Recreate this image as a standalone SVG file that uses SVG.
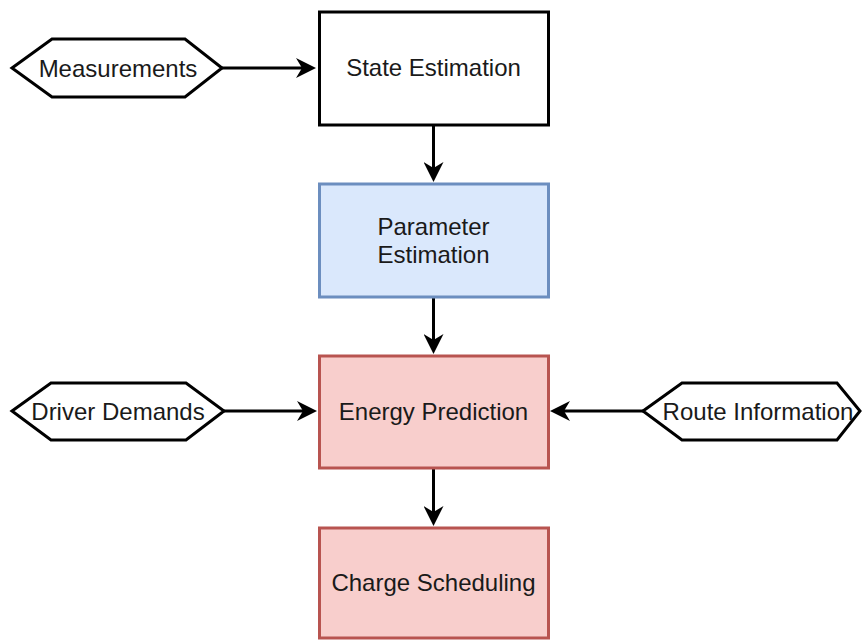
<svg xmlns="http://www.w3.org/2000/svg" width="866" height="641" viewBox="0 0 866 641">
<style>
.box{stroke-width:3}
.plain{fill:#ffffff;stroke:#000000}
.blue{fill:#dae8fc;stroke:#6c8ebf}
.red{fill:#f8cecc;stroke:#b85450}
.hex{fill:#ffffff;stroke:#000000;stroke-width:3;stroke-linejoin:miter}
.lbl{font-family:"Liberation Sans",Arial,Helvetica,sans-serif;font-size:24px;fill:#1a1a1a;text-anchor:middle;dominant-baseline:central}
.edge{fill:none;stroke:#000000;stroke-width:3}
</style>
<defs>
<marker id="arr" viewBox="0 -10 20 20" refX="6" refY="0" markerWidth="20" markerHeight="20" markerUnits="userSpaceOnUse" orient="auto">
<path d="M0,-10 L20,0 L0,10 L6,0 Z" fill="#000000"/>
</marker>
</defs>
<g id="connectors">
<path class="edge" d="M222,68 L302,68" marker-end="url(#arr)"/>
<path class="edge" d="M433.5,126 L433.5,168" marker-end="url(#arr)"/>
<path class="edge" d="M433.5,298 L433.5,340" marker-end="url(#arr)"/>
<path class="edge" d="M433.5,469 L433.5,512" marker-end="url(#arr)"/>
<path class="edge" d="M224,411 L303,411" marker-end="url(#arr)"/>
<path class="edge" d="M643,411 L564,411" marker-end="url(#arr)"/>
</g>
<g id="measurements">
<polygon class="hex" points="12,68 52,39 185,39 222,68 185,97 52,97"/>
<text class="lbl" x="118" y="68">Measurements</text>
</g>
<g id="state-estimation">
<rect class="box plain" x="319.5" y="12" width="229" height="113"/>
<text class="lbl" x="433.5" y="67">State Estimation</text>
</g>
<g id="parameter-estimation">
<rect class="box blue" x="319.5" y="184" width="229" height="113"/>
<text class="lbl" x="433.5" y="226">Parameter</text>
<text class="lbl" x="433.5" y="254">Estimation</text>
</g>
<g id="energy-prediction">
<rect class="box red" x="319.5" y="356" width="229" height="112"/>
<text class="lbl" x="433.5" y="411">Energy Prediction</text>
</g>
<g id="driver-demands">
<polygon class="hex" points="12,411 51,383 186,383 224,411 186,440 51,440"/>
<text class="lbl" x="118" y="411">Driver Demands</text>
</g>
<g id="route-information">
<polygon class="hex" points="643,411 682,383 837,383 860,411 837,440 682,440"/>
<text class="lbl" x="758" y="411">Route Information</text>
</g>
<g id="charge-scheduling">
<rect class="box red" x="319.5" y="528" width="229" height="110"/>
<text class="lbl" x="433.5" y="582">Charge Scheduling</text>
</g>
</svg>
